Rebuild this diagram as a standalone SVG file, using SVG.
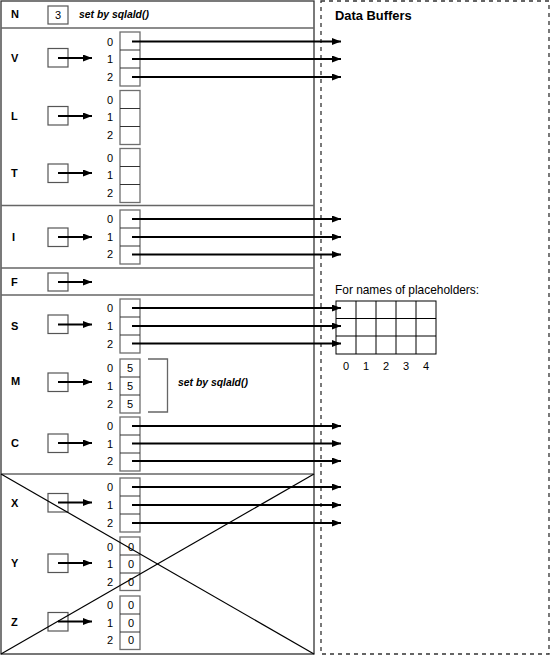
<svg xmlns="http://www.w3.org/2000/svg" width="551" height="656" viewBox="0 0 551 656">
<defs>
<marker id="ah" markerUnits="userSpaceOnUse" markerWidth="10" markerHeight="8" refX="9" refY="3.5" orient="auto"><path d="M0,0 L9,3.5 L0,7 z" fill="#000"/></marker>
<style>
.lbl{font-family:"Liberation Sans",Arial,sans-serif;font-size:11px;font-weight:bold;fill:#000}
.ttl{font-family:"Liberation Sans",Arial,sans-serif;font-size:12.9px;font-weight:bold;fill:#000}
.idx{font-family:"Liberation Sans",Arial,sans-serif;font-size:11px;fill:#000;text-anchor:middle}
.it{font-family:"Liberation Sans",Arial,sans-serif;font-size:10.4px;font-weight:bold;font-style:italic;fill:#000}
.txt{font-family:"Liberation Sans",Arial,sans-serif;font-size:11.9px;fill:#000}
.cell{fill:#fff;stroke:#6e6e6e;stroke-width:1.3}
.div{stroke:#333;stroke-width:1}
.pbox{fill:#fff;stroke:#555;stroke-width:1.2}
.parr{stroke:#000;stroke-width:2;fill:none;marker-end:url(#ah)}
.darr{stroke:#000;stroke-width:2;fill:none;marker-end:url(#ah)}
.sep{stroke:#666;stroke-width:1.3}
</style>
</defs>
<rect width="551" height="656" fill="#fff"/>
<g id="frame">
<rect x="1" y="1" width="313" height="653" fill="none" stroke="#333" stroke-width="1.3"/>
<line x1="1" y1="654" x2="314" y2="654" stroke="#777" stroke-width="2"/>
<line class="sep" x1="1" y1="28" x2="314" y2="28"/>
<line class="sep" x1="1" y1="205.5" x2="314" y2="205.5"/>
<line class="sep" x1="1" y1="268" x2="314" y2="268"/>
<line class="sep" x1="1" y1="295" x2="314" y2="295"/>
<line class="sep" x1="1" y1="474" x2="314" y2="474"/>
<rect x="321" y="1" width="228" height="653" fill="none" stroke="#333" stroke-width="1.3" stroke-dasharray="4,4"/>
<text class="ttl" x="335" y="20">Data Buffers</text>
</g>
<g id="N">
<text class="lbl" x="11" y="18">N</text>
<rect class="pbox" x="48" y="6" width="20" height="18"/>
<text class="idx" x="58" y="19">3</text>
<text class="it" x="79" y="18">set by sqlald()</text>
</g>
<g id="V">
<text class="lbl" x="11" y="62">V</text>
<rect class="pbox" x="48" y="48.5" width="20" height="18.5"/>
<rect class="cell" x="120" y="32" width="20" height="54"/>
<line class="div" x1="120" y1="50" x2="140" y2="50"/><line class="div" x1="120" y1="68" x2="140" y2="68"/>
<text class="idx" x="110" y="46">0</text><text class="idx" x="110" y="63">1</text><text class="idx" x="110" y="81">2</text>
</g>
<g id="L">
<text class="lbl" x="11" y="120">L</text>
<rect class="pbox" x="48" y="106.5" width="20" height="18.5"/>
<rect class="cell" x="120" y="90.5" width="20" height="54"/>
<line class="div" x1="120" y1="108.5" x2="140" y2="108.5"/><line class="div" x1="120" y1="126.5" x2="140" y2="126.5"/>
<text class="idx" x="110" y="104">0</text><text class="idx" x="110" y="121">1</text><text class="idx" x="110" y="139">2</text>
</g>
<g id="T">
<text class="lbl" x="11" y="177">T</text>
<rect class="pbox" x="48" y="164" width="20" height="18.5"/>
<rect class="cell" x="120" y="148.5" width="20" height="54"/>
<line class="div" x1="120" y1="166.5" x2="140" y2="166.5"/><line class="div" x1="120" y1="184.5" x2="140" y2="184.5"/>
<text class="idx" x="110" y="162">0</text><text class="idx" x="110" y="179">1</text><text class="idx" x="110" y="197">2</text>
</g>
<g id="I">
<text class="lbl" x="12" y="241">I</text>
<rect class="pbox" x="48" y="228" width="20" height="18.5"/>
<rect class="cell" x="120" y="210" width="20" height="54"/>
<line class="div" x1="120" y1="228" x2="140" y2="228"/><line class="div" x1="120" y1="246" x2="140" y2="246"/>
<text class="idx" x="110" y="223">0</text><text class="idx" x="110" y="241">1</text><text class="idx" x="110" y="258">2</text>
</g>
<g id="F">
<text class="lbl" x="11" y="286">F</text>
<rect class="pbox" x="48" y="273" width="20" height="18"/>
</g>
<g id="S">
<text class="lbl" x="11" y="330">S</text>
<rect class="pbox" x="48" y="315" width="20" height="18.5"/>
<rect class="cell" x="120" y="299" width="20" height="54"/>
<line class="div" x1="120" y1="317" x2="140" y2="317"/><line class="div" x1="120" y1="335" x2="140" y2="335"/>
<text class="idx" x="110" y="312">0</text><text class="idx" x="110" y="330">1</text><text class="idx" x="110" y="348">2</text>
</g>
<g id="M">
<text class="lbl" x="11" y="385">M</text>
<rect class="pbox" x="48" y="373" width="20" height="18.5"/>
<rect class="cell" x="120" y="359" width="20" height="54"/>
<line class="div" x1="120" y1="377" x2="140" y2="377"/><line class="div" x1="120" y1="395" x2="140" y2="395"/>
<text class="idx" x="110" y="372">0</text><text class="idx" x="110" y="390">1</text><text class="idx" x="110" y="408">2</text>
<text class="idx" x="130" y="372">5</text><text class="idx" x="130" y="390">5</text><text class="idx" x="130" y="408">5</text>
<path d="M148,359 H167.5 V412 H148" fill="none" stroke="#666" stroke-width="1.3"/>
<text class="it" x="178" y="386">set by sqlald()</text>
</g>
<g id="C">
<text class="lbl" x="11" y="447">C</text>
<rect class="pbox" x="48" y="434" width="20" height="18.5"/>
<rect class="cell" x="120" y="417" width="20" height="54"/>
<line class="div" x1="120" y1="435" x2="140" y2="435"/><line class="div" x1="120" y1="453" x2="140" y2="453"/>
<text class="idx" x="110" y="430">0</text><text class="idx" x="110" y="448">1</text><text class="idx" x="110" y="465">2</text>
</g>
<g id="X">
<text class="lbl" x="11" y="507">X</text>
<rect class="pbox" x="48" y="493.5" width="20" height="18.5"/>
<rect class="cell" x="120" y="478" width="20" height="54"/>
<line class="div" x1="120" y1="496" x2="140" y2="496"/><line class="div" x1="120" y1="514" x2="140" y2="514"/>
<text class="idx" x="110" y="491">0</text><text class="idx" x="110" y="509">1</text><text class="idx" x="110" y="527">2</text>
</g>
<g id="Y">
<text class="lbl" x="11" y="567">Y</text>
<rect class="pbox" x="48" y="554" width="20" height="18.5"/>
<rect class="cell" x="120" y="537" width="20" height="53.5"/>
<line class="div" x1="120" y1="555" x2="140" y2="555"/><line class="div" x1="120" y1="573" x2="140" y2="573"/>
<text class="idx" x="110" y="551">0</text><text class="idx" x="110" y="568">1</text><text class="idx" x="110" y="586">2</text>
<text class="idx" x="131" y="551">0</text><text class="idx" x="131" y="568">0</text><text class="idx" x="131" y="586">0</text>
</g>
<g id="Z">
<text class="lbl" x="11" y="626">Z</text>
<rect class="pbox" x="48" y="612.5" width="20" height="18.5"/>
<rect class="cell" x="120" y="596" width="20" height="53.5"/>
<line class="div" x1="120" y1="614" x2="140" y2="614"/><line class="div" x1="120" y1="632" x2="140" y2="632"/>
<text class="idx" x="110" y="609">0</text><text class="idx" x="110" y="627">1</text><text class="idx" x="110" y="644">2</text>
<text class="idx" x="131" y="609">0</text><text class="idx" x="131" y="627">0</text><text class="idx" x="131" y="644">0</text>
</g>
<g id="placeholders">
<text class="txt" x="335" y="294">For names of placeholders:</text>
<rect x="336" y="301" width="100" height="53" fill="#fff" stroke="#000" stroke-width="1"/>
<path d="M356,301 V354 M376,301 V354 M396,301 V354 M416,301 V354 M336,318.5 H436 M336,336 H436" stroke="#000" stroke-width="1"/>
<text class="idx" x="346" y="370">0</text><text class="idx" x="366" y="370">1</text><text class="idx" x="386" y="370">2</text><text class="idx" x="406" y="370">3</text><text class="idx" x="426" y="370">4</text>
</g>
<g id="connectors">
<line class="parr" x1="58" y1="58" x2="92" y2="58"/>
<line class="parr" x1="58" y1="116" x2="92" y2="116"/>
<line class="parr" x1="58" y1="173" x2="92" y2="173"/>
<line class="parr" x1="58" y1="237" x2="92" y2="237"/>
<line class="parr" x1="58" y1="282" x2="92" y2="282"/>
<line class="parr" x1="58" y1="324.5" x2="92" y2="324.5"/>
<line class="parr" x1="58" y1="382" x2="92" y2="382"/>
<line class="parr" x1="58" y1="443" x2="92" y2="443"/>
<line class="parr" x1="58" y1="502.5" x2="92" y2="502.5"/>
<line class="parr" x1="58" y1="563" x2="92" y2="563"/>
<line class="parr" x1="58" y1="621.5" x2="92" y2="621.5"/>
<line class="darr" x1="132" y1="41.5" x2="341" y2="41.5"/>
<line class="darr" x1="132" y1="59" x2="341" y2="59"/>
<line class="darr" x1="132" y1="77" x2="341" y2="77"/>
<line class="darr" x1="132" y1="219" x2="341" y2="219"/>
<line class="darr" x1="132" y1="237" x2="341" y2="237"/>
<line class="darr" x1="132" y1="254.5" x2="341" y2="254.5"/>
<line class="darr" x1="132" y1="308" x2="341" y2="308"/>
<line class="darr" x1="132" y1="326" x2="341" y2="326"/>
<line class="darr" x1="132" y1="343.5" x2="341" y2="343.5"/>
<line class="darr" x1="132" y1="426" x2="341" y2="426"/>
<line class="darr" x1="132" y1="443.5" x2="341" y2="443.5"/>
<line class="darr" x1="132" y1="461" x2="341" y2="461"/>
<line class="darr" x1="132" y1="487" x2="341" y2="487"/>
<line class="darr" x1="132" y1="505" x2="341" y2="505"/>
<line class="darr" x1="132" y1="523" x2="341" y2="523"/>
</g>
<g id="cross">
<line x1="1" y1="474" x2="314" y2="654" stroke="#000" stroke-width="1.2"/>
<line x1="314" y1="474" x2="1" y2="654" stroke="#000" stroke-width="1.2"/>
</g>
</svg>
